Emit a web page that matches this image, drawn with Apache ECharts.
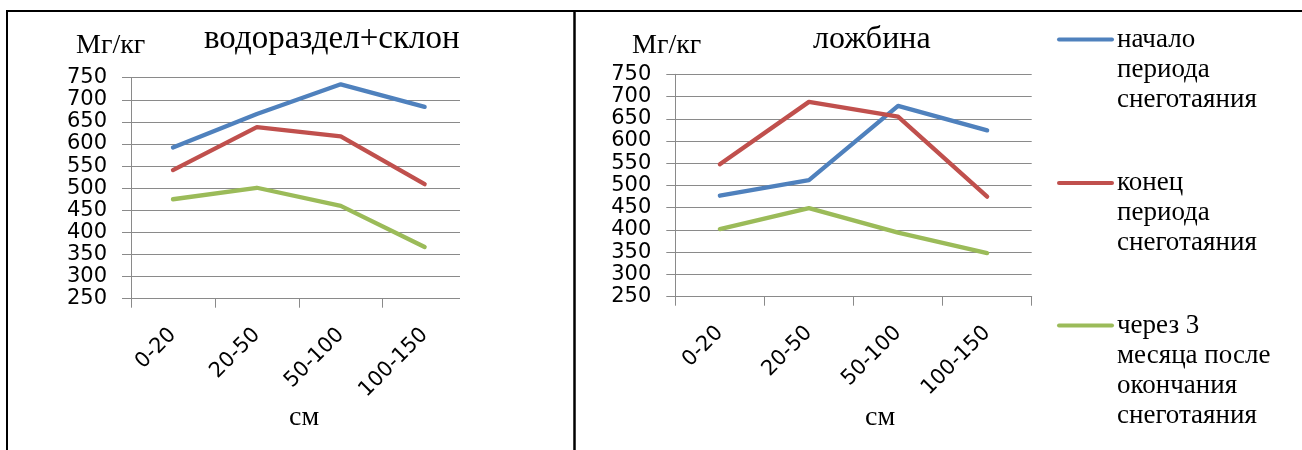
<!DOCTYPE html>
<html>
<head>
<meta charset="utf-8">
<title>Мг/кг по глубине</title>
<script src="https://cdn.jsdelivr.net/npm/echarts@6/dist/echarts.min.js"></script>
<style>
  html, body { margin: 0; padding: 0; background: #fff; }
  #chart { width: 1302px; height: 450px; }
</style>
</head>
<body>
<div id="chart"></div>
<script>
// Depth layers, cm
const categories = ['0-20', '20-50', '50-100', '100-150'];

// водораздел+склон
const slopeStart = [592, 668, 735, 684];
const slopeEnd = [541, 638, 617, 509];
const slopeAfter = [475, 501, 460, 367];

// ложбина
const hollowStart = [477, 512, 679, 624];
const hollowEnd = [548, 688, 655, 475];
const hollowAfter = [402, 449, 394, 348];

// Value axis range and step
const yMin = 250;
const yMax = 750;
const yStep = 50;

const panelTitles = ['водораздел+склон', 'ложбина'];
const yUnit = 'Мг/кг';
const xUnit = 'см';
const seriesNames = [
  'начало периода снеготаяния',
  'конец периода снеготаяния',
  'через 3 месяца после окончания снеготаяния'
];
const legendLines = [
  ['начало', 'периода', 'снеготаяния'],
  ['конец', 'периода', 'снеготаяния'],
  ['через 3', 'месяца после', 'окончания', 'снеготаяния']
];

const colors = ['#4F81BD', '#C0504D', '#9BBB59'];
const gridColor = '#8A8A8A';
const serif = '"Liberation Serif", "Times New Roman", serif';
const sans = '"DejaVu Sans", Verdana, sans-serif';

const panels = [
  { grid: { left: 131, top: 77.7, width: 335.6, height: 221 }, data: [slopeStart, slopeEnd, slopeAfter] },
  { grid: { left: 675.3, top: 74.3, width: 356.4, height: 222.4 }, data: [hollowStart, hollowEnd, hollowAfter] }
];

const chart = echarts.init(document.getElementById('chart'), null, { renderer: 'canvas' });

const xAxes = panels.map((p, i) => ({
  type: 'category',
  gridIndex: i,
  data: categories,
  boundaryGap: true,
  axisLine: { show: true, lineStyle: { color: gridColor, width: 1 } },
  axisTick: { show: true, length: 9, lineStyle: { color: gridColor, width: 1 } },
  axisLabel: { rotate: 45, margin: 33, fontFamily: sans, fontSize: 21, color: '#000' },
  splitLine: { show: false }
}));

const yAxes = panels.map((p, i) => ({
  type: 'value',
  gridIndex: i,
  min: yMin,
  max: yMax,
  interval: yStep,
  axisLine: { show: true, lineStyle: { color: gridColor, width: 1 } },
  axisTick: { show: true, length: 9, lineStyle: { color: gridColor, width: 1 } },
  axisLabel: { margin: 24, fontFamily: sans, fontSize: 21, color: '#000' },
  splitLine: { show: true, lineStyle: { color: gridColor, width: 1 } }
}));

const series = [];
panels.forEach((p, i) => {
  p.data.forEach((values, k) => {
    series.push({
      type: 'line',
      name: seriesNames[k],
      xAxisIndex: i,
      yAxisIndex: i,
      data: values,
      symbol: 'none',
      lineStyle: { color: colors[k], width: 4.3, cap: 'round', join: 'round' },
      itemStyle: { color: colors[k] },
      z: 3 + k
    });
  });
});

const text = (str, x, y, size) => ({
  type: 'text',
  x: x,
  y: y,
  z: 10,
  style: {
    text: str,
    fontFamily: serif,
    fontSize: size,
    fill: '#000',
    textAlign: 'left',
    textVerticalAlign: 'middle'
  }
});

const graphics = [];

// panel frame
graphics.push({ type: 'line', z: 20, shape: { x1: 6, y1: 11, x2: 1302, y2: 11 }, style: { stroke: '#000', lineWidth: 2 } });
graphics.push({ type: 'line', z: 20, shape: { x1: 7, y1: 10, x2: 7, y2: 450 }, style: { stroke: '#000', lineWidth: 2 } });
graphics.push({ type: 'line', z: 20, shape: { x1: 574.5, y1: 10, x2: 574.5, y2: 450 }, style: { stroke: '#000', lineWidth: 2.5 } });

// the left panel is trimmed just before its right plot edge
graphics.push({ type: 'rect', z: 15, shape: { x: 460, y: 60, width: 12, height: 260 }, style: { fill: '#fff' } });

// titles and axis units
graphics.push(text(panelTitles[0], 204, 39, 33));
graphics.push(text(panelTitles[1], 813, 39.2, 32));
graphics.push(text(yUnit, 76, 45.5, 28));
graphics.push(text(yUnit, 632, 45.5, 28));
graphics.push(text(xUnit, 289, 417.5, 28));
graphics.push(text(xUnit, 865, 417.5, 28));

// legend
const legendTops = [39.5, 183, 325.5];
legendLines.forEach((lines, k) => {
  const y0 = legendTops[k];
  graphics.push({
    type: 'line', z: 10,
    shape: { x1: 1059, y1: y0, x2: 1112, y2: y0 },
    style: { stroke: colors[k], lineWidth: 4, lineCap: 'round' }
  });
  graphics.push({
    type: 'text', z: 10, x: 1117, y: y0 - 15,
    style: {
      text: lines.join('\n'),
      fontFamily: serif,
      fontSize: 27,
      lineHeight: 30,
      fill: '#000',
      textAlign: 'left',
      textVerticalAlign: 'top'
    }
  });
});

chart.setOption({
  animation: false,
  backgroundColor: '#fff',
  grid: panels.map(p => Object.assign({ containLabel: false }, p.grid)),
  xAxis: xAxes,
  yAxis: yAxes,
  series: series,
  graphic: graphics
});
</script>
</body>
</html>
